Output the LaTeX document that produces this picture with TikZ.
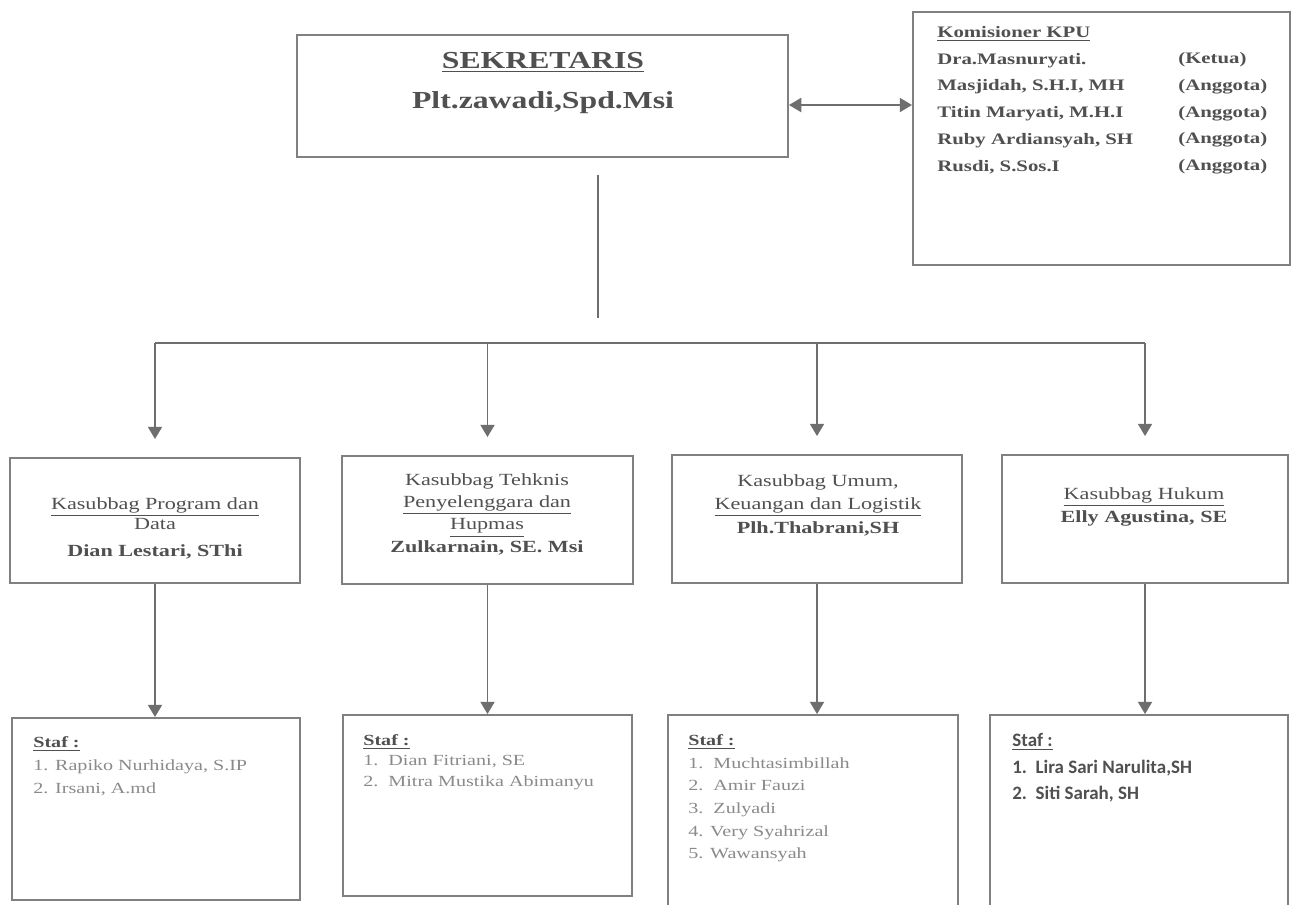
\documentclass[tikz,border=0pt]{standalone}
\usepackage{fontspec}
\setmainfont{Liberation Serif}[FakeStretch=1.3]
\newfontfamily\calfont{Carlito}
\usetikzlibrary{arrows.meta}
\definecolor{boxline}{HTML}{808080}
\definecolor{conn}{HTML}{6E6E6E}
\definecolor{txtdark}{HTML}{505050}
\definecolor{txtlight}{HTML}{8A8A8A}
\newcommand\mkbox[5]{\node[box, minimum width={(#4-#2)*0.02cm}, minimum height={(#5-#3)*0.02cm}] (#1) at ({(#2+#4)/2},{(#3+#5)/2}) {};}
\begin{document}
\begin{tikzpicture}[x=0.02cm,y=-0.02cm,
  box/.style={draw=boxline, line width=1.1pt, inner sep=0pt, rectangle},
  conline/.style={draw=conn, line width=1.1pt},
  arr/.style={conline, -{Triangle[length=7pt,width=8pt]}},
  dbl/.style={conline, {Triangle[length=7pt,width=8pt]}-{Triangle[length=7pt,width=8pt]}},
  sektxt/.style={font=\fontsize{13.9}{22.5}\selectfont\bfseries, text=txtdark, align=center, inner sep=0pt},
  komtxt/.style={font=\fontsize{9.1}{15.2}\selectfont\bfseries, text=txtdark, align=left, anchor=west, inner sep=0pt},
  kasub/.style={font=\fontsize{9.7}{12.8}\selectfont, text=txtdark, align=center, inner sep=0pt},
  staf/.style={font=\fontsize{8.8}{13}\selectfont, text=txtlight, align=left, anchor=west, inner sep=0pt}]
\useasboundingbox (0,0) rectangle (1293,904);
\fill[white] (0,0) rectangle (1293,904);

% boxes
\mkbox{sek}{297}{35}{788}{157}
\mkbox{kom}{913}{12}{1290}{265}
\mkbox{k1}{10}{458}{300}{583}
\mkbox{k2}{342}{456}{633}{584}
\mkbox{k3}{672}{455}{962}{583}
\mkbox{k4}{1002}{455}{1288}{583}
\mkbox{s1}{12}{718}{300}{900}
\mkbox{s2}{343}{715}{632}{896}
\mkbox{s3}{668}{715}{958}{907}
\mkbox{s4}{990}{715}{1288}{907}

% texts
\node[sektxt] (sekt) at (543,83) {\underline{SEKRETARIS}\\Plt.zawadi,Spd.Msi};
\node[komtxt] (komt) at (937,100) {\underline{Komisioner KPU}\\Dra.Masnuryati.\\Masjidah, S.H.I, MH\\Titin Maryati, M.H.I\\Ruby Ardiansyah, SH\\Rusdi, S.Sos.I};
\node[komtxt] (komr) at (1178,113.5) {(Ketua)\\(Anggota)\\(Anggota)\\(Anggota)\\(Anggota)};

\node[kasub, font=\fontsize{9.7}{10.4}\selectfont] (k1t) at (155,528) {\underline{Kasubbag Program dan}\\Data\\[5pt]\textbf{Dian Lestari, SThi}};
\node[kasub, font=\fontsize{9.7}{12.7}\selectfont] (k2t) at (487,514) {Kasubbag Tehknis\\\underline{Penyelenggara dan}\\\underline{Hupmas}\\\textbf{Zulkarnain, SE. Msi}};
\node[kasub, font=\fontsize{9.7}{13.4}\selectfont] (k3t) at (818,505) {Kasubbag Umum,\\\underline{Keuangan dan Logistik}\\\textbf{Plh.Thabrani,SH}};
\node[kasub, font=\fontsize{9.7}{13}\selectfont] (k4t) at (1144,507) {\underline{Kasubbag Hukum}\\\textbf{Elly Agustina, SE}};

\node[staf] (s1t) at (33,766) {\textcolor{txtdark}{\bfseries\underline{Staf :}}\\1. Rapiko Nurhidaya, S.IP\\2. Irsani, A.md};
\node[staf, font=\fontsize{8.8}{11.7}\selectfont] (s2t) at (363,762) {\textcolor{txtdark}{\bfseries\underline{Staf :}}\\1.\ \ Dian Fitriani, SE\\2.\ \ Mitra Mustika Abimanyu};
\node[staf, font=\fontsize{8.8}{12.9}\selectfont] (s3t) at (688,798.5) {\textcolor{txtdark}{\bfseries\underline{Staf :}}\\1.\ \ Muchtasimbillah\\2.\ \ Amir Fauzi\\3.\ \ Zulyadi\\4. Very Syahrizal\\5. Wawansyah};
\node[staf, font=\calfont\fontsize{10.8}{15}\selectfont\bfseries, text=txtdark] (s4t) at (1012,768) {\underline{Staf :}\\1.\ \ Lira Sari Narulita,SH\\2.\ \ Siti Sarah, SH};

% connectors
\draw[dbl] ([yshift=-0.18cm]sek.east) -- ([yshift=-0.18cm]sek.east -| kom.west);
\coordinate (v1) at (598,175);
\coordinate (v2) at (598,318);
\draw[conline] (v1) -- (v2);
\coordinate (bus) at (0,343);
\draw[conline] (k1.north |- bus) -- (k4.north |- bus);
\foreach \k in {k1,k2,k3,k4}{
  \draw[arr] (\k.north |- bus) -- ([yshift=0.36cm]\k.north);
}
\draw[arr] (k1.south) -- (k1.south |- s1.north);
\draw[arr] (k2.south) -- (k2.south |- s2.north);
\draw[arr] (k3.south) -- (k3.south |- s3.north);
\draw[arr] (k4.south) -- (k4.south |- s4.north);
\end{tikzpicture}
\end{document}
